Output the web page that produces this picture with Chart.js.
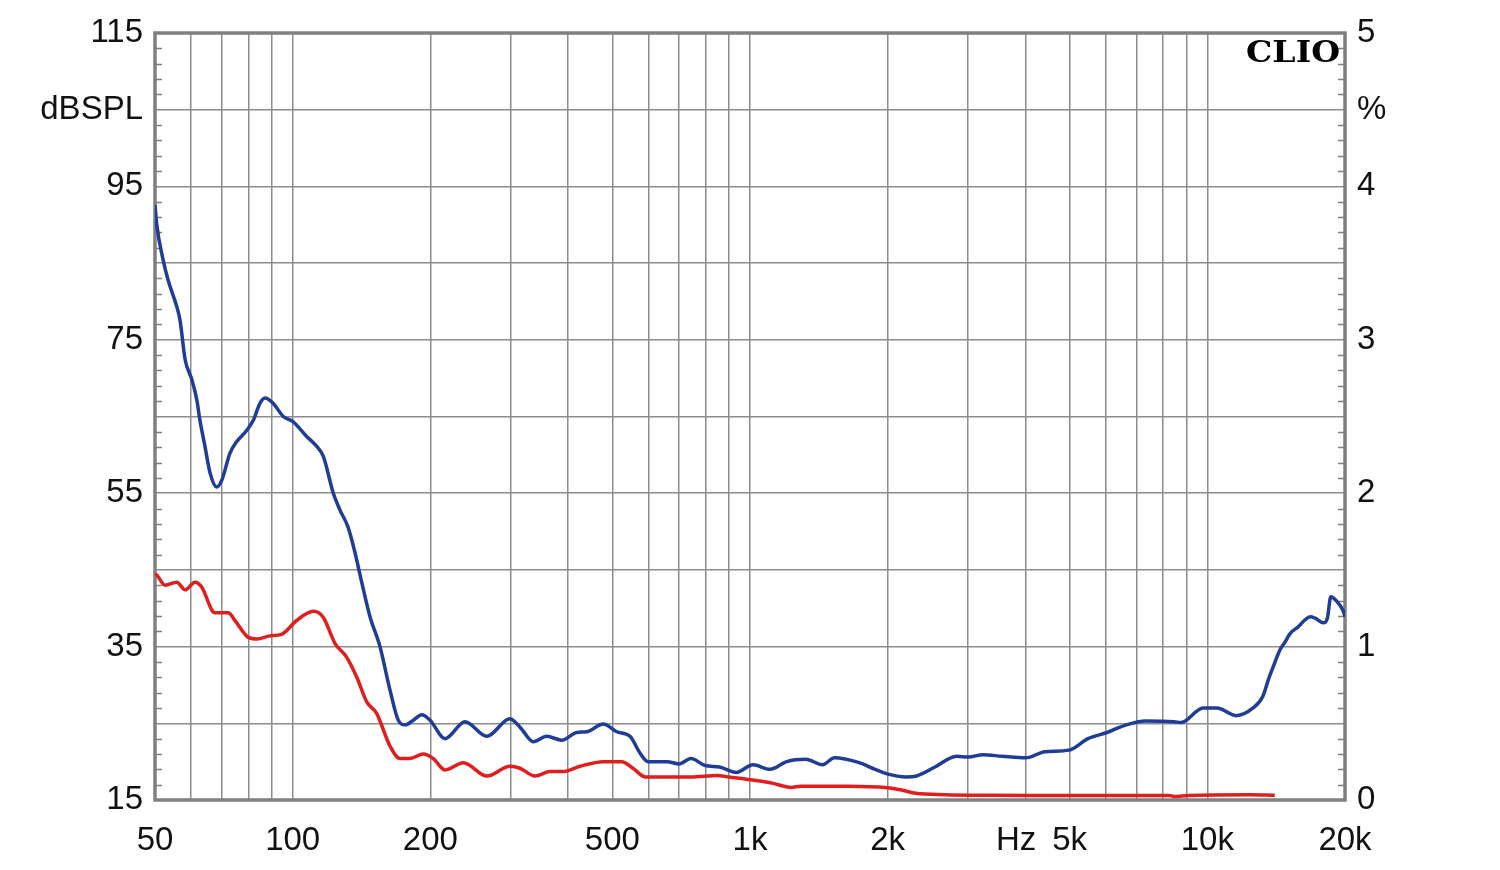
<!DOCTYPE html>
<html>
<head>
<meta charset="utf-8">
<script src="https://cdn.jsdelivr.net/npm/chart.js@4.4.1/dist/chart.umd.min.js"></script>
<style>
  body { margin: 0; background: #fff; }
  #wrap { width: 1500px; height: 870px; }
</style>
</head>
<body>
<div id="wrap"><canvas id="clioChart" width="1500" height="870"></canvas></div>
<script>
// blue: SPL response (dB), left axis
const freqBlue = [50, 50.4, 52.1, 53.4, 55.8, 56.7, 58.2, 60.2, 61.7, 62.7, 64.3, 66, 68.2, 70, 72.9, 75.4, 79.4, 82, 84.8, 87,
  90.7, 95.4, 100.3, 107.3, 112.9, 116.7, 122.7, 126.9, 132.1, 136.8, 141.8, 147.6, 155.2, 163.3, 170.2, 176.1, 183.6, 191.5, 199.7, 215.4,
  238.2, 265.7, 298.6, 314.1, 336, 359.4, 387.5, 417.9, 439.5, 477.9, 511, 546.5, 575, 598.6, 658.6, 699.4, 743.2, 797.4, 858.1, 934.2,
  1015, 1106, 1203, 1324, 1441, 1530, 1726, 1877, 1994, 2193, 2304, 2538, 2828, 3003, 3230, 3557, 4010, 4417, 4985, 5484,
  6036, 6576, 7328, 8459, 8766, 9786, 10500, 11560, 12590, 13220, 13600, 13940, 14420, 14790, 15170, 15810, 16360, 16780, 17210, 17940,
  18300, 18620, 19190, 19840, 20000];
const dbBlue = [92.6, 90.2, 85.4, 82.8, 79.3, 77.6, 72.4, 69.8, 67.2, 64.5, 61.1, 57.6, 55.8, 56.7, 60.2, 61.7, 63.2, 64.5, 66.7, 67.4,
  66.7, 65.0, 64.3, 62.4, 61.1, 59.8, 55.0, 52.8, 50.6, 47.3, 43.2, 38.9, 35.0, 29.3, 25.4, 24.8, 25.4, 26.1, 25.4, 23.0,
  25.2, 23.3, 25.6, 24.5, 22.6, 23.3, 22.8, 23.8, 23.9, 24.9, 23.9, 23.3, 21.1, 20.0, 20.0, 19.7, 20.4, 19.5, 19.3, 18.6,
  19.6, 19.0, 20.0, 20.3, 19.6, 20.5, 19.9, 19.0, 18.4, 18.0, 18.1, 19.3, 20.7, 20.6, 20.9, 20.7, 20.5, 21.3, 21.5, 23.0,
  23.8, 24.7, 25.3, 25.2, 25.1, 27.0, 27.0, 26.0, 27.0, 28.5, 30.7, 32.4, 34.6, 35.6, 36.7, 37.6, 38.5, 38.9, 38.7, 38.1,
  38.7, 41.5, 40.9, 39.6, 38.9];

// red: distortion (%), right axis
const freqRed = [50, 50.4, 52.6, 55.8, 58.2, 61.2, 63.2, 67.6, 72.3, 74.8, 80, 83.5, 89.2, 94.6, 102, 111, 116.7, 123.8, 131.3, 138.1,
  145.2, 152.6, 163.3, 171.7, 180.5, 193.1, 203, 215.4, 236.2, 265.7, 298.6, 314.1, 338.8, 365.4, 390.7, 425, 477.9, 524.4, 555.7, 590.9,
  743.2, 847.2, 899.9, 1015, 1118, 1229, 1292, 1645, 1994, 2144, 2304, 2664, 3383, 4109, 8253, 8459, 9099, 12450, 14040];
const pctRed = [1.47, 1.467, 1.40, 1.42, 1.37, 1.42, 1.39, 1.22, 1.22, 1.17, 1.06, 1.05, 1.07, 1.08, 1.17, 1.23, 1.19, 1.02, 0.93, 0.80,
  0.64, 0.565, 0.35, 0.27, 0.27, 0.30, 0.27, 0.196, 0.243, 0.156, 0.22, 0.207, 0.156, 0.185, 0.185, 0.22, 0.25, 0.25, 0.205, 0.15,
  0.15, 0.16, 0.15, 0.13, 0.11, 0.082, 0.09, 0.09, 0.08, 0.065, 0.044, 0.035, 0.031, 0.03, 0.03, 0.023, 0.03, 0.035, 0.031];

// axis ticks / labels
const gridFreqs = [50, 60, 70, 80, 90, 100, 200, 300, 400, 500, 600, 700, 800, 900, 1000,
  2000, 3000, 4000, 5000, 6000, 7000, 8000, 9000, 10000, 20000];
const hzPos = 3820;
const freqLabels = { 50: '50', 100: '100', 200: '200', 500: '500', 1000: '1k', 2000: '2k', 3820: 'Hz', 5000: '5k', 10000: '10k', 20000: '20k' };
const dbLabels = { 15: '15', 35: '35', 55: '55', 75: '75', 95: '95', 105: 'dBSPL', 115: '115' };
const pctLabels = { 0: '0', 1: '1', 2: '2', 3: '3', 4: '4', 4.5: '%', 5: '5' };

const gridColor = '#8c8c8c';
const frameColor = '#7f7f7f';
const labelFont = { family: "'Liberation Sans', Arial, sans-serif", size: 33 };

// frame, minor ticks and CLIO logo
const clioDecor = {
  id: 'clioDecor',
  beforeDatasetsDraw(chart) {
    const { ctx, chartArea: a } = chart;
    const yL = chart.scales.y;
    ctx.save();
    ctx.strokeStyle = frameColor;
    ctx.lineWidth = 1.5;
    ctx.beginPath();
    for (let v = 17; v < 115; v += 2) {
      if ((v - 15) % 10 === 0) continue;
      const py = Math.round(yL.getPixelForValue(v)) + 0.5;
      ctx.moveTo(a.left, py); ctx.lineTo(a.left + 7, py);
      ctx.moveTo(a.right, py); ctx.lineTo(a.right - 7, py);
    }
    ctx.stroke();
    ctx.lineWidth = 3.5;
    ctx.strokeRect(a.left, a.top, a.right - a.left, a.bottom - a.top);

    // logo
    ctx.font = "bold 29px 'DejaVu Serif', serif";
    ctx.fillStyle = '#000';
    ctx.textBaseline = 'alphabetic';
    const w = ctx.measureText('CLIO').width;
    ctx.translate(a.right - 5 - 94, a.top + 29);
    ctx.scale(94 / w, 1);
    ctx.fillText('CLIO', 0, 0);
    ctx.restore();
  }
};

const ctx = document.getElementById('clioChart').getContext('2d');
new Chart(ctx, {
  type: 'line',
  data: {
    datasets: [{
      label: 'SPL',
      data: freqBlue.map((f, i) => ({ x: f, y: dbBlue[i] })),
      yAxisID: 'y',
      borderColor: '#1f3d96',
      borderWidth: 3.5,
      pointRadius: 0,
      cubicInterpolationMode: 'monotone'
    }, {
      label: 'THD',
      data: freqRed.map((f, i) => ({ x: f, y: pctRed[i] })),
      yAxisID: 'y2',
      borderColor: '#e01e1e',
      borderWidth: 3.5,
      pointRadius: 0,
      cubicInterpolationMode: 'monotone'
    }]
  },
  options: {
    responsive: false,
    animation: false,
    layout: { padding: { top: 33, bottom: 0, left: 0, right: 0 } },
    plugins: { legend: { display: false }, tooltip: { enabled: false } },
    scales: {
      x: {
        type: 'logarithmic',
        min: 50,
        max: 20000,
        afterBuildTicks: (scale) => {
          scale.ticks = gridFreqs.concat([hzPos]).sort((a, b) => a - b).map(v => ({ value: v }));
        },
        afterFit: (scale) => { scale.height = 70; },
        grid: {
          color: (c) => (c.tick && c.tick.value === hzPos) ? 'rgba(0,0,0,0)' : gridColor,
          lineWidth: 1.5,
          drawTicks: false
        },
        border: { display: false },
        ticks: {
          autoSkip: false,
          maxRotation: 0,
          padding: 21,
          color: '#111',
          font: labelFont,
          callback: (v) => freqLabels[v] || ''
        }
      },
      y: {
        type: 'linear',
        position: 'left',
        min: 15,
        max: 115,
        afterFit: (scale) => { scale.width = 155; },
        grid: { color: gridColor, lineWidth: 1.5, drawTicks: false },
        border: { display: false },
        ticks: {
          autoSkip: false,
          padding: 12,
          color: '#111',
          font: labelFont,
          callback: (v) => dbLabels[v] || ''
        },
        afterBuildTicks: (scale) => {
          const t = [];
          for (let v = 15; v <= 115; v += 10) t.push({ value: v });
          scale.ticks = t;
        }
      },
      y2: {
        type: 'linear',
        position: 'right',
        min: 0,
        max: 5,
        afterFit: (scale) => { scale.width = 155; },
        grid: { display: false, drawTicks: false },
        border: { display: false },
        afterBuildTicks: (scale) => {
          scale.ticks = [0, 1, 2, 3, 4, 4.5, 5].map(v => ({ value: v }));
        },
        ticks: {
          autoSkip: false,
          padding: 12,
          color: '#111',
          font: labelFont,
          callback: (v) => pctLabels[v] || ''
        }
      }
    }
  },
  plugins: [clioDecor]
});
</script>
</body>
</html>
